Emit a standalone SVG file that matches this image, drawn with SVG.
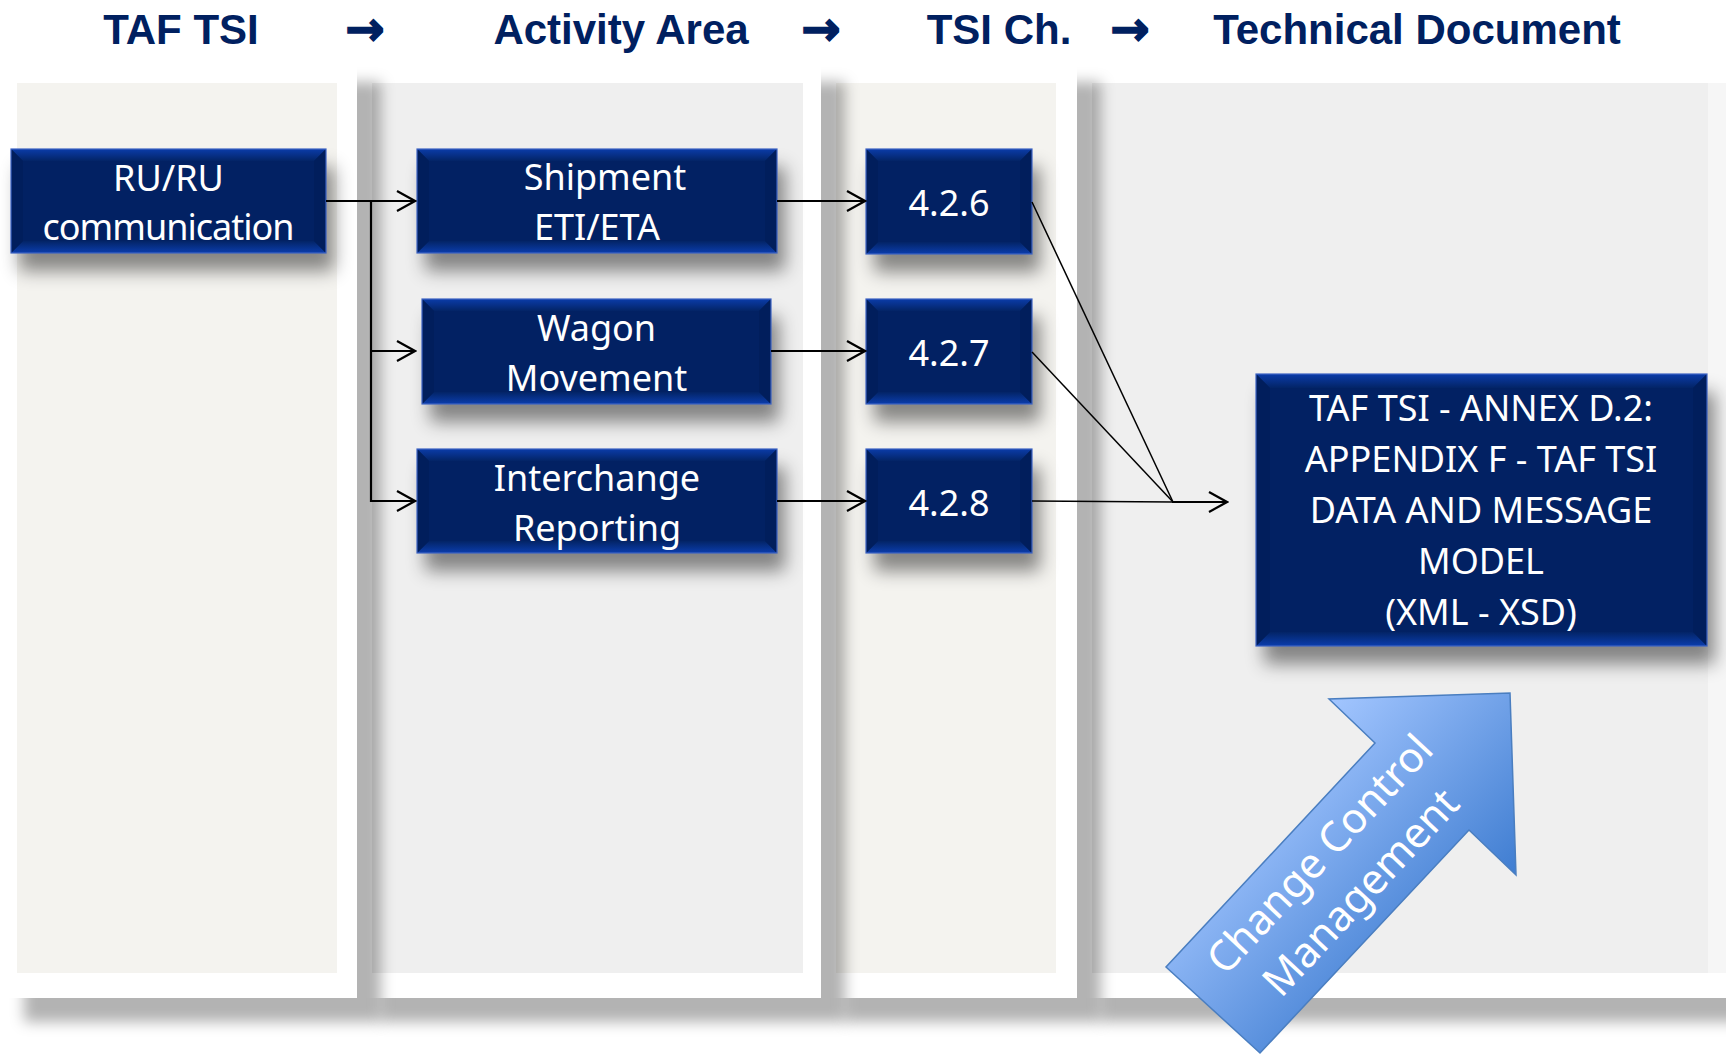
<svg xmlns="http://www.w3.org/2000/svg" width="1726" height="1055" viewBox="0 0 1726 1055">
<defs>
<style>
.hdr{font-family:"Liberation Sans",Arial,sans-serif;font-weight:bold;font-size:42px;fill:#002060;text-anchor:middle}
.harr{font-family:"DejaVu Sans","Noto Sans",sans-serif;font-weight:bold;font-size:47px;fill:#002060;stroke:#002060;stroke-width:1.5;text-anchor:middle}
.bt{font-family:"Noto Sans","Open Sans",sans-serif;font-size:36px;fill:#ffffff;text-anchor:middle}
.at{font-family:"Noto Sans","Open Sans",sans-serif;font-size:42px;fill:#ffffff;text-anchor:middle}
.face{fill:#022163}
.tb{fill:url(#gTop)}
.bb{fill:url(#gBot)}
.sb{fill:#011e5c}
.edge{fill:none;stroke:#3d63c4;stroke-width:1.2}
.conn{fill:none;stroke:#000;stroke-width:2.2}
.thin{fill:none;stroke:#000;stroke-width:1.5}
.pw{fill:#ffffff}
</style>
<linearGradient id="gTop" x1="0" y1="0" x2="0" y2="1">
<stop offset="0" stop-color="#0b3ca9"/>
<stop offset="1" stop-color="#032466"/>
</linearGradient>
<linearGradient id="gBot" x1="0" y1="0" x2="0" y2="1">
<stop offset="0" stop-color="#032466"/>
<stop offset="1" stop-color="#0b3dad"/>
</linearGradient>
<linearGradient id="gArrow" gradientUnits="userSpaceOnUse" x1="1329" y1="699" x2="1516" y2="875">
<stop offset="0" stop-color="#a3c6ff"/>
<stop offset="1" stop-color="#3f7dd1"/>
</linearGradient>
<filter id="shBox" x="-20%" y="-30%" width="150%" height="190%">
<feGaussianBlur in="SourceAlpha" stdDeviation="9"/>
<feOffset dx="8" dy="18" result="b"/>
<feFlood flood-color="#000" flood-opacity="0.45"/>
<feComposite in2="b" operator="in"/>
</filter>
<filter id="shPanel" x="-10%" y="-5%" width="130%" height="115%">
<feGaussianBlur in="SourceAlpha" stdDeviation="7"/>
<feOffset dx="24" dy="24" result="b"/>
<feFlood flood-color="#000" flood-opacity="0.3"/>
<feComposite in2="b" operator="in"/>
</filter>
<marker id="ah" markerWidth="22" markerHeight="24" refX="20" refY="12" orient="auto" markerUnits="userSpaceOnUse">
<path d="M2,2 L20,12 L2,22" fill="none" stroke="#000" stroke-width="2.2"/>
</marker>
</defs>
<rect x="0" y="0" width="1726" height="1055" fill="#ffffff"/>

<g id="headers">
<text class="hdr" x="181" y="44">TAF TSI</text>
<text class="harr" x="365" y="45">→</text>
<text class="hdr" x="621" y="44">Activity Area</text>
<text class="harr" x="821" y="45">→</text>
<text class="hdr" x="999" y="44">TSI Ch.</text>
<text class="harr" x="1130" y="45">→</text>
<text class="hdr" x="1417" y="44">Technical Document</text>
</g>

<g id="panel4">
<rect x="1077" y="58" width="660" height="940" fill="#fff" filter="url(#shPanel)"/>
<rect class="pw" x="1077" y="58" width="660" height="940"/>
<rect x="1708" y="83" width="30" height="890" fill="#f6f6f6"/>
<rect x="1092" y="83" width="616" height="890" fill="#efefef"/>
</g>
<g id="panel3">
<rect x="821" y="58" width="256" height="940" fill="#fff" filter="url(#shPanel)"/>
<rect class="pw" x="821" y="58" width="256" height="940"/>
<rect x="836" y="83" width="220" height="890" fill="#f4f3ef"/>
</g>
<g id="panel2">
<rect x="357" y="58" width="464" height="940" fill="#fff" filter="url(#shPanel)"/>
<rect class="pw" x="357" y="58" width="464" height="940"/>
<rect x="372" y="83" width="431" height="890" fill="#efefef"/>
</g>
<g id="panel1">
<rect x="0" y="58" width="357" height="940" fill="#fff" filter="url(#shPanel)"/>
<rect class="pw" x="0" y="58" width="357" height="940"/>
<rect x="17" y="83" width="320" height="890" fill="#f4f3ef"/>
</g>

<g id="n-ruru">
<rect x="11" y="149" width="315" height="104" filter="url(#shBox)"/>
<rect class="face" x="11" y="149" width="315" height="104"/>
<polygon class="tb" points="11,149 326,149 314,161 23,161"/>
<polygon class="bb" points="11,253 326,253 314,241 23,241"/>
<polygon class="sb" points="11,149 23,161 23,241 11,253"/>
<polygon class="sb" points="326,149 314,161 314,241 326,253"/>
<rect class="edge" x="11" y="149" width="315" height="104"/>
<text class="bt" x="168.5" y="191">RU/RU</text>
<text class="bt" x="168.5" y="240" textLength="252">communication</text>
</g>

<g id="n-shipment">
<rect x="417" y="149" width="360" height="104" filter="url(#shBox)"/>
<rect class="face" x="417" y="149" width="360" height="104"/>
<polygon class="tb" points="417,149 777,149 765,161 429,161"/>
<polygon class="bb" points="417,253 777,253 765,241 429,241"/>
<polygon class="sb" points="417,149 429,161 429,241 417,253"/>
<polygon class="sb" points="777,149 765,161 765,241 777,253"/>
<rect class="edge" x="417" y="149" width="360" height="104"/>
<text class="bt" x="605" y="190">Shipment</text>
<text class="bt" x="597" y="240">ETI/ETA</text>
</g>

<g id="n-wagon">
<rect x="422" y="299" width="349" height="105" filter="url(#shBox)"/>
<rect class="face" x="422" y="299" width="349" height="105"/>
<polygon class="tb" points="422,299 771,299 759,311 434,311"/>
<polygon class="bb" points="422,404 771,404 759,392 434,392"/>
<polygon class="sb" points="422,299 434,311 434,392 422,404"/>
<polygon class="sb" points="771,299 759,311 759,392 771,404"/>
<rect class="edge" x="422" y="299" width="349" height="105"/>
<text class="bt" x="596.5" y="341">Wagon</text>
<text class="bt" x="596.5" y="391">Movement</text>
</g>

<g id="n-interchange">
<rect x="417" y="449" width="360" height="104" filter="url(#shBox)"/>
<rect class="face" x="417" y="449" width="360" height="104"/>
<polygon class="tb" points="417,449 777,449 765,461 429,461"/>
<polygon class="bb" points="417,553 777,553 765,541 429,541"/>
<polygon class="sb" points="417,449 429,461 429,541 417,553"/>
<polygon class="sb" points="777,449 765,461 765,541 777,553"/>
<rect class="edge" x="417" y="449" width="360" height="104"/>
<text class="bt" x="597" y="491">Interchange</text>
<text class="bt" x="597" y="541">Reporting</text>
</g>

<g id="n-426">
<rect x="866" y="149" width="166" height="105" filter="url(#shBox)"/>
<rect class="face" x="866" y="149" width="166" height="105"/>
<polygon class="tb" points="866,149 1032,149 1020,161 878,161"/>
<polygon class="bb" points="866,254 1032,254 1020,242 878,242"/>
<polygon class="sb" points="866,149 878,161 878,242 866,254"/>
<polygon class="sb" points="1032,149 1020,161 1020,242 1032,254"/>
<rect class="edge" x="866" y="149" width="166" height="105"/>
<text class="bt" x="949" y="216">4.2.6</text>
</g>

<g id="n-427">
<rect x="866" y="299" width="166" height="105" filter="url(#shBox)"/>
<rect class="face" x="866" y="299" width="166" height="105"/>
<polygon class="tb" points="866,299 1032,299 1020,311 878,311"/>
<polygon class="bb" points="866,404 1032,404 1020,392 878,392"/>
<polygon class="sb" points="866,299 878,311 878,392 866,404"/>
<polygon class="sb" points="1032,299 1020,311 1020,392 1032,404"/>
<rect class="edge" x="866" y="299" width="166" height="105"/>
<text class="bt" x="949" y="366">4.2.7</text>
</g>

<g id="n-428">
<rect x="866" y="449" width="166" height="104" filter="url(#shBox)"/>
<rect class="face" x="866" y="449" width="166" height="104"/>
<polygon class="tb" points="866,449 1032,449 1020,461 878,461"/>
<polygon class="bb" points="866,553 1032,553 1020,541 878,541"/>
<polygon class="sb" points="866,449 878,461 878,541 866,553"/>
<polygon class="sb" points="1032,449 1020,461 1020,541 1032,553"/>
<rect class="edge" x="866" y="449" width="166" height="104"/>
<text class="bt" x="949" y="516">4.2.8</text>
</g>

<g id="n-annex">
<rect x="1256" y="374" width="451" height="272" filter="url(#shBox)"/>
<rect class="face" x="1256" y="374" width="451" height="272"/>
<polygon class="tb" points="1256,374 1707,374 1693,388 1270,388"/>
<polygon class="bb" points="1256,646 1707,646 1693,632 1270,632"/>
<polygon class="sb" points="1256,374 1270,388 1270,632 1256,646"/>
<polygon class="sb" points="1707,374 1693,388 1693,632 1707,646"/>
<rect class="edge" x="1256" y="374" width="451" height="272"/>
<text class="bt" x="1481" y="421">TAF TSI - ANNEX D.2:</text>
<text class="bt" x="1481" y="472">APPENDIX F - TAF TSI</text>
<text class="bt" x="1481" y="523">DATA AND MESSAGE</text>
<text class="bt" x="1481" y="574">MODEL</text>
<text class="bt" x="1481" y="625">(XML - XSD)</text>
</g>

<g id="connectors">
<path class="conn" d="M326,201 H415" marker-end="url(#ah)"/>
<path class="conn" d="M371,201 V501 H415" marker-end="url(#ah)"/>
<path class="conn" d="M371,351 H415" marker-end="url(#ah)"/>
<path class="conn" d="M777,201 H865" marker-end="url(#ah)"/>
<path class="conn" d="M771,351 H865" marker-end="url(#ah)"/>
<path class="conn" d="M777,501 H865" marker-end="url(#ah)"/>
<path class="thin" d="M1032,202 L1173,502"/>
<path class="thin" d="M1032,352 L1173,502"/>
<path class="thin" d="M1032,501 L1173,502"/>
<path class="conn" d="M1172,502 H1227" marker-end="url(#ah)"/>
</g>

<g id="change-control">
<polygon points="1510,693 1516,875 1469,830 1260,1053 1166,967 1375,743 1329,699" fill="url(#gArrow)" stroke="#4a7ec0" stroke-width="1.5"/>
<g transform="translate(1342,875) rotate(-47)">
<text class="at" x="0" y="-16">Change Control</text>
<text class="at" x="0" y="40">Management</text>
</g>
</g>
</svg>
